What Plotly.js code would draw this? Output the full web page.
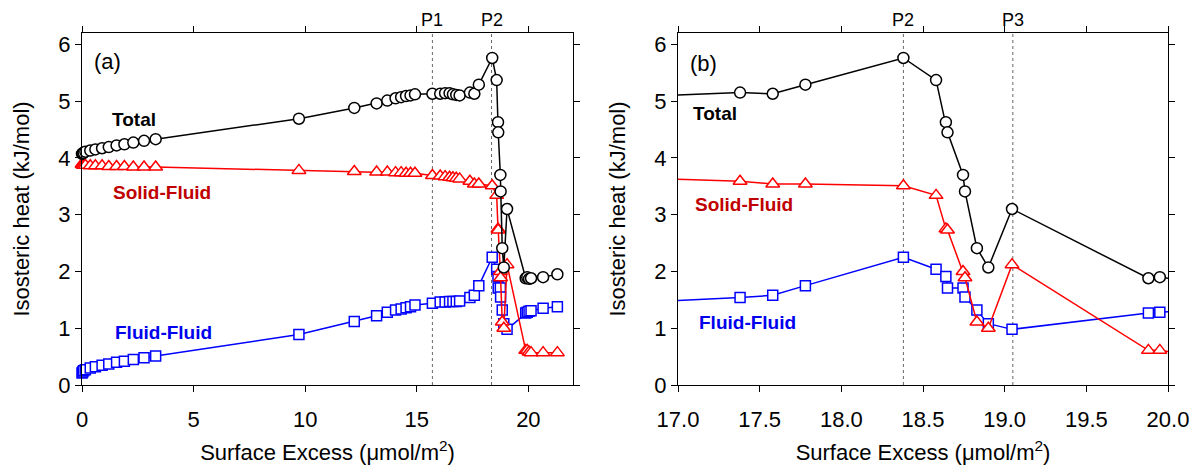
<!DOCTYPE html>
<html>
<head>
<meta charset="utf-8">
<script src="https://cdn.plot.ly/plotly-3.0.1.min.js"></script>
<style>html,body{margin:0;padding:0;background:#fff;}#chart{width:1192px;height:465px;}</style>
</head>
<body>
<div id="chart"></div>
<script>
// Surface excess (umol/m2), shared by all three series
const surfaceExcess = [
  0, 0.03, 0.07, 0.15, 0.37, 0.6, 0.9, 1.2, 1.55, 1.9, 2.3, 2.78, 3.3,
  9.72, 12.2, 13.2, 13.68, 14.05, 14.3, 14.52, 14.72, 14.92,
  15.7, 16.05, 16.27, 16.47, 16.62, 16.77, 16.92,
  17.38, 17.58, 17.78, 18.38, 18.58, 18.64, 18.65, 18.745, 18.757, 18.83, 18.90, 19.045,
  19.88, 19.95, 20.03, 20.12, 20.66, 21.3
];
// Isosteric heat (kJ/mol)
const totalHeat = [
  4.07, 4.08, 4.09, 4.11, 4.13, 4.15, 4.17, 4.19, 4.22, 4.24, 4.27, 4.30, 4.33,
  4.69, 4.88, 4.96, 5.01, 5.05, 5.07, 5.09, 5.10, 5.12,
  5.13, 5.13, 5.14, 5.14, 5.12, 5.11, 5.10,
  5.15, 5.13, 5.29, 5.76, 5.37, 4.63, 4.45, 3.70, 3.41, 2.41, 2.07, 3.10,
  1.88, 1.90, 1.87, 1.88, 1.90, 1.95
];
const solidFluidHeat = [
  3.89, 3.88, 3.87, 3.87, 3.86, 3.86, 3.86, 3.85, 3.85, 3.85, 3.84, 3.84, 3.84,
  3.78, 3.76, 3.75, 3.75, 3.74, 3.74, 3.73, 3.73, 3.73,
  3.69, 3.68, 3.67, 3.66, 3.65, 3.64, 3.63,
  3.59, 3.54, 3.54, 3.51, 3.34, 2.75, 2.73, 2.00, 1.89, 1.11, 1.00, 2.12,
  0.61, 0.61, 0.58, 0.57, 0.57, 0.57
];
const fluidFluidHeat = [
  0.21, 0.23, 0.25, 0.27, 0.30, 0.32, 0.35, 0.37, 0.40, 0.42, 0.45, 0.48, 0.51,
  0.89, 1.12, 1.22, 1.28, 1.32, 1.34, 1.36, 1.38, 1.41,
  1.44, 1.46, 1.46, 1.47, 1.47, 1.47, 1.48,
  1.54, 1.58, 1.75, 2.25, 2.04, 1.91, 1.71, 1.71, 1.55, 1.32, 1.08, 0.98,
  1.27, 1.28, 1.30, 1.31, 1.35, 1.38
];
const seriesNames = ['Total', 'Solid-Fluid', 'Fluid-Fluid'];
// Reference points
const pointLabelsA = ['P1', 'P2'];
const pointPosA = [15.7, 18.35];
const pointLabelsB = ['P2', 'P3'];
const pointPosB = [18.38, 19.05];
const tickValsA = [0, 5, 10, 15, 20];
const tickValsB = [17.0, 17.5, 18.0, 18.5, 19.0, 19.5, 20.0];
const rangeA = [0, 22];
const rangeB = [17, 20];

const FONT = 'Liberation Sans, Arial, sans-serif';
const styles = {
  'Total': {color: '#000000', symbol: 'circle', size: 11},
  'Solid-Fluid': {color: '#ff0000', symbol: 'triangle-up', size: 12},
  'Fluid-Fluid': {color: '#0000ff', symbol: 'square', size: 10}
};
const yData = {'Total': totalHeat, 'Solid-Fluid': solidFluidHeat, 'Fluid-Fluid': fluidFluidHeat};

const traces = [];
// panel (a): lines + markers, markers not clipped
['Fluid-Fluid', 'Solid-Fluid', 'Total'].forEach(name => {
  const s = styles[name];
  traces.push({
    type: 'scatter', mode: 'lines+markers', name: name,
    x: surfaceExcess, y: yData[name], xaxis: 'x', yaxis: 'y',
    cliponaxis: false, showlegend: false,
    line: {color: s.color, width: 1.5},
    marker: {symbol: s.symbol, size: s.size, color: '#ffffff', line: {color: s.color, width: 1.5}}
  });
});
// panel (b): full lines (clipped) + markers only for points inside the zoomed range
['Fluid-Fluid', 'Solid-Fluid', 'Total'].forEach(name => {
  const s = styles[name];
  const idx = surfaceExcess.map((v, i) => i).filter(i => surfaceExcess[i] >= rangeB[0] && surfaceExcess[i] <= rangeB[1]);
  traces.push({
    type: 'scatter', mode: 'lines', name: name,
    x: surfaceExcess, y: yData[name], xaxis: 'x2', yaxis: 'y2',
    showlegend: false, line: {color: s.color, width: 1.5}
  });
  traces.push({
    type: 'scatter', mode: 'markers', name: name,
    x: idx.map(i => surfaceExcess[i]), y: idx.map(i => yData[name][i]), xaxis: 'x2', yaxis: 'y2',
    cliponaxis: false, showlegend: false,
    marker: {symbol: s.symbol, size: s.size, color: '#ffffff', line: {color: s.color, width: 1.5}}
  });
});

const axisBase = {
  showline: true, linecolor: '#000', linewidth: 1, mirror: 'ticks',
  ticks: 'outside', ticklen: 6, tickcolor: '#000', tickwidth: 1,
  showgrid: false, zeroline: false,
  tickfont: {family: FONT, size: 22, color: '#000'}
};
const xTitle = {text: 'Surface Excess (μmol/m<sup>2</sup>)', font: {family: FONT, size: 22, color: '#000'}, standoff: 20};
const yTitle = {text: 'Isosteric heat (kJ/mol)', font: {family: FONT, size: 22, color: '#000'}, standoff: 22};

const shapes = [];
const annotations = [];
pointPosA.forEach((p, i) => {
  shapes.push({type: 'line', xref: 'x', yref: 'paper', x0: p, x1: p, y0: 0, y1: 1, layer: 'below',
    line: {color: '#666', width: 1, dash: 'dot'}});
  annotations.push({xref: 'x', yref: 'paper', x: p, y: 1, yanchor: 'bottom', yshift: 1, showarrow: false,
    text: pointLabelsA[i], font: {family: FONT, size: 18, color: '#000'}});
});
pointPosB.forEach((p, i) => {
  shapes.push({type: 'line', xref: 'x2', yref: 'paper', x0: p, x1: p, y0: 0, y1: 1, layer: 'below',
    line: {color: '#666', width: 1, dash: 'dot'}});
  annotations.push({xref: 'x2', yref: 'paper', x: p, y: 1, yanchor: 'bottom', yshift: 1, showarrow: false,
    text: pointLabelsB[i], font: {family: FONT, size: 18, color: '#000'}});
});
const labelColors = {'Total': '#000000', 'Solid-Fluid': '#c00000', 'Fluid-Fluid': '#0000ee'};
[['Total', 2.35, 4.68], ['Solid-Fluid', 3.57, 3.39], ['Fluid-Fluid', 3.67, 0.92]].forEach(([t, x, y]) => {
  annotations.push({xref: 'x', yref: 'y', x: x, y: y, showarrow: false, text: '<b>' + t + '</b>',
    font: {family: FONT, size: 19, color: labelColors[t]}});
});
[['Total', 17.227, 4.79], ['Solid-Fluid', 17.402, 3.18], ['Fluid-Fluid', 17.426, 1.10]].forEach(([t, x, y]) => {
  annotations.push({xref: 'x2', yref: 'y2', x: x, y: y, showarrow: false, text: '<b>' + t + '</b>',
    font: {family: FONT, size: 19, color: labelColors[t]}});
});
annotations.push({xref: 'x', yref: 'y', x: 1.12, y: 5.69, showarrow: false, text: '(a)', font: {family: FONT, size: 22, color: '#000'}});
annotations.push({xref: 'x2', yref: 'y2', x: 17.159, y: 5.67, showarrow: false, text: '(b)', font: {family: FONT, size: 22, color: '#000'}});

const layout = {
  width: 1192, height: 465,
  margin: {l: 0, r: 0, t: 33, b: 80},
  paper_bgcolor: '#fff', plot_bgcolor: '#fff',
  font: {family: FONT, color: '#000'},
  showlegend: false,
  xaxis: Object.assign({}, axisBase, {domain: [82 / 1192, 573 / 1192], range: rangeA, tickvals: tickValsA,
    ticklabelstandoff: 9, anchor: 'y', title: xTitle}),
  yaxis: Object.assign({}, axisBase, {domain: [0, 1], range: [0, 6.2], dtick: 1, anchor: 'x', title: yTitle}),
  xaxis2: Object.assign({}, axisBase, {domain: [678 / 1192, 1168 / 1192], range: rangeB, tickvals: tickValsB,
    tickformat: '.1f', ticklabelstandoff: 9, anchor: 'y2', title: xTitle}),
  yaxis2: Object.assign({}, axisBase, {domain: [0, 1], range: [0, 6.2], dtick: 1, anchor: 'x2', title: yTitle}),
  shapes: shapes,
  annotations: annotations
};

Plotly.newPlot('chart', traces, layout, {displayModeBar: false, staticPlot: true});
</script>
</body>
</html>
